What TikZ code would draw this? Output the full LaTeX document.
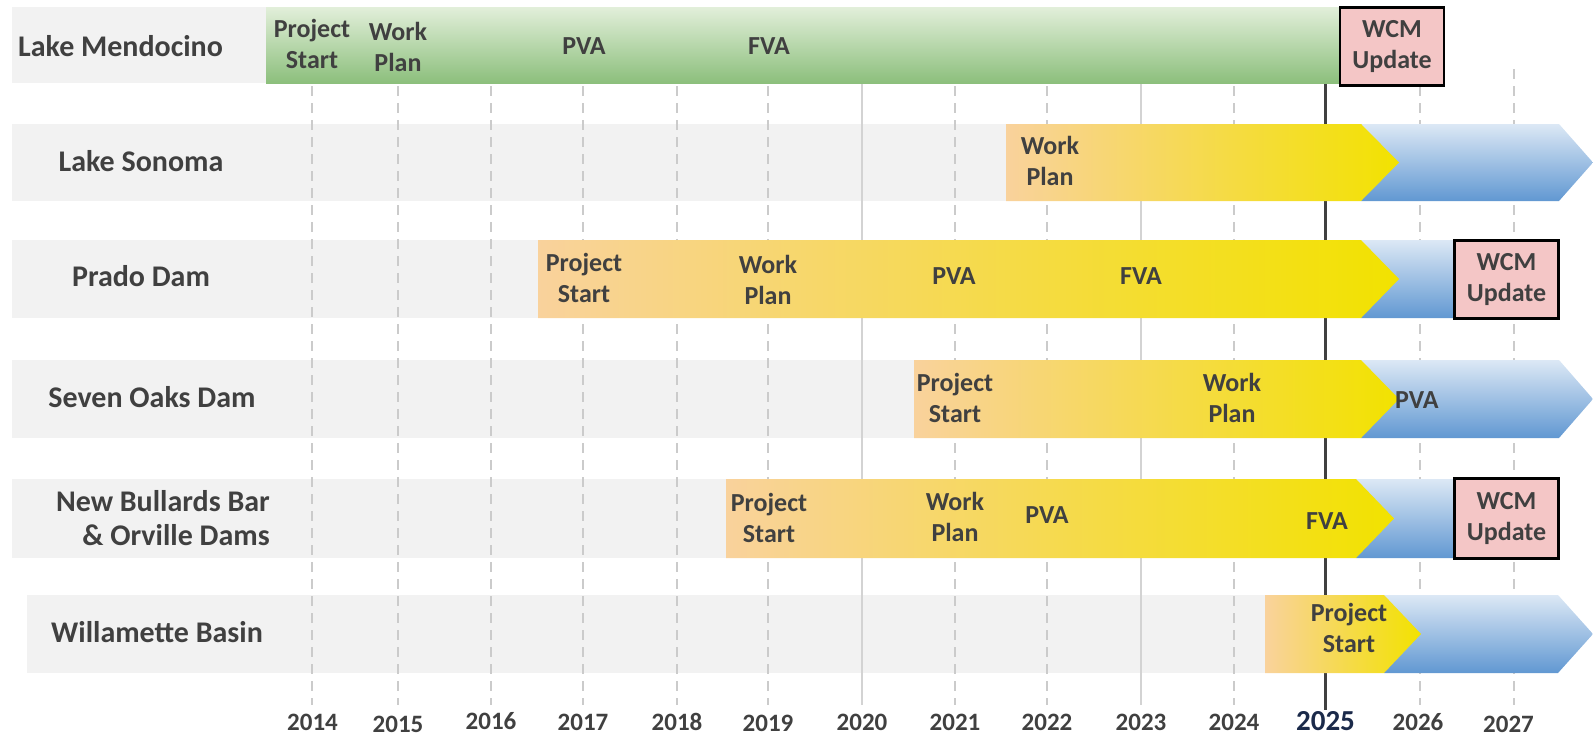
\documentclass[tikz,border=0pt]{standalone}
\usepackage{fontspec}
\setmainfont{Carlito}
\definecolor{txt}{HTML}{404040}
\definecolor{band}{HTML}{F2F2F2}
\definecolor{gridc}{HTML}{CBCBCB}
\definecolor{orangeL}{HTML}{F9D29C}
\definecolor{yellowM}{HTML}{F7DD80}
\definecolor{yellowR}{HTML}{F2E200}
\definecolor{blueT}{HTML}{DCE8F5}
\definecolor{blueB}{HTML}{6198D2}
\definecolor{greenT}{HTML}{E2EFDA}
\definecolor{greenB}{HTML}{8CBF7C}
\definecolor{wcmfill}{HTML}{F4C6C6}
\definecolor{navy}{HTML}{1B2A4A}
\newcommand\progarrow[5]{%
  \shade[left color=orangeL, middle color=yellowM, right color=yellowR]
    (#3,#1) -- (#4,#1) -- (#5,{(#1+#2)/2}) -- (#4,#2) -- (#3,#2) -- cycle;}
\newcommand\bluechev[5]{%
  \shade[top color=blueT, bottom color=blueB]
    (#3,#1) -- (#4,#1) -- (#5,{(#1+#2)/2}) -- (#4,#2) -- (#3,#2) -- cycle;}
\begin{document}
\begin{tikzpicture}[x=1pt,y=-1pt,
  rowlabel/.style={font=\fontsize{30}{34}\selectfont\bfseries, text=txt, inner sep=0pt},
  ms/.style={font=\fontsize{26}{31}\selectfont\bfseries, text=txt, align=center, inner sep=0pt},
  wcmbox/.style={ms, draw=black, line width=2.5pt, fill=wcmfill, minimum width=104pt},
  yr/.style={font=\fontsize{25}{29}\selectfont\bfseries, text=txt, inner sep=0pt},
  gridline/.style={gridc, line width=1.8pt, dash pattern=on 10pt off 7pt},
  gridsolid/.style={gridc!85, line width=1.8pt}]
\useasboundingbox (0,0) rectangle (1593,739);
% background bands
\fill[band] (12,7) rectangle (266,83);
\fill[band] (12,124) rectangle (1006,201);
\fill[band] (12,240) rectangle (538,318);
\fill[band] (12,360) rectangle (914,438);
\fill[band] (12,479) rectangle (726,558);
\fill[band] (27,595) rectangle (1265,673);
% grid
\foreach \x in {312,398,491,583,677,768,955,1047,1234,1420,1514}
  \draw[gridline] (\x,69) -- (\x,705);
\foreach \x in {862,1141}
  \draw[gridsolid] (\x,69) -- (\x,705);
\draw[line width=3pt, black!75] (1325,83) -- (1325,710);
% bars
\shade[top color=greenT, bottom color=greenB] (266,7) rectangle (1339,83);
\bluechev{124}{201}{1361}{1559}{1593}
\progarrow{124}{201}{1006}{1361}{1399}
\bluechev{240}{318}{1361}{1500}{1500}
\progarrow{240}{318}{538}{1361}{1399}
\bluechev{360}{438}{1361}{1559}{1593}
\progarrow{360}{438}{914}{1361}{1399}
\bluechev{479}{558}{1356}{1500}{1500}
\progarrow{479}{558}{726}{1356}{1394}
\bluechev{595}{673}{1384}{1558}{1593}
\progarrow{595}{673}{1265}{1384}{1421}
% WCM boxes
\node[wcmbox, minimum height=78pt] (wcm1) at (1392,46.5) {WCM\\Update};
\node[wcmbox, minimum height=78pt] (wcm3) at (1506.5,279.5) {WCM\\Update};
\node[wcmbox, minimum height=80pt] (wcm5) at (1506.5,518.5) {WCM\\Update};
% row labels
\node[rowlabel, anchor=west] (l1) at (18,46) {Lake Mendocino};
\node[rowlabel] (l2) at (141,161) {Lake Sonoma};
\node[rowlabel] (l3) at (141,276) {Prado Dam};
\node[rowlabel] (l4) at (152,397) {Seven Oaks Dam};
\node[rowlabel, align=right, anchor=east] (l5) at (270,518) {New Bullards Bar\\\& Orville Dams};
\node[rowlabel, anchor=west] (l6) at (51,632) {Willamette Basin};
% row 1 milestones
\node[ms] (r1a) at (312,44) {Project\\Start};
\node[ms] (r1b) at (398,47) {Work\\Plan};
\node[ms] (r1c) at (584,46) {PVA};
\node[ms] (r1d) at (769,46) {FVA};
% row 2
\node[ms] (r2a) at (1050,161) {Work\\Plan};
% row 3
\node[ms] (r3a) at (584,278) {Project\\Start};
\node[ms] (r3b) at (768,280) {Work\\Plan};
\node[ms] (r3c) at (954,276) {PVA};
\node[ms] (r3d) at (1141,276) {FVA};
% row 4
\node[ms] (r4a) at (955,398) {Project\\Start};
\node[ms] (r4b) at (1232,398) {Work\\Plan};
\node[ms, anchor=west] (r4c) at (1395,400) {PVA};
% row 5
\node[ms] (r5a) at (769,518) {Project\\Start};
\node[ms] (r5b) at (955,517) {Work\\Plan};
\node[ms] (r5c) at (1047,515) {PVA};
\node[ms] (r5d) at (1327,521) {FVA};
% row 6
\node[ms] (r6a) at (1349,628) {Project\\Start};
% years
\node[yr] (y14) at (312.5,722) {2014};
\node[yr] (y15) at (398,724) {2015};
\node[yr] (y16) at (491,721) {2016};
\node[yr] (y17) at (583,722) {2017};
\node[yr] (y18) at (677,722) {2018};
\node[yr] (y19) at (768,723) {2019};
\node[yr] (y20) at (862,722) {2020};
\node[yr] (y21) at (955,722) {2021};
\node[yr] (y22) at (1047,722) {2022};
\node[yr] (y23) at (1141,722) {2023};
\node[yr] (y24) at (1234,722) {2024};
\node[yr, font=\fontsize{29}{33}\selectfont\bfseries, text=navy] (y25) at (1325.5,721.5) {2025};
\node[yr] (y26) at (1418,722.5) {2026};
\node[yr] (y27) at (1508.5,724.5) {2027};
\end{tikzpicture}
\end{document}
